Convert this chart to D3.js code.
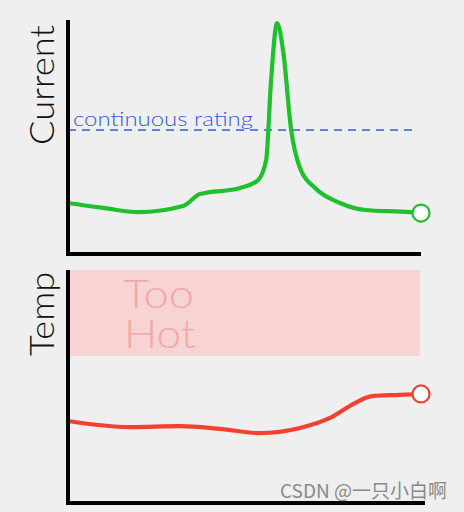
<!DOCTYPE html>
<html><head><meta charset="utf-8">
<script src="https://cdn.jsdelivr.net/npm/d3@7/dist/d3.min.js"></script>
<style>html,body{margin:0;padding:0;background:#efefef;}svg{display:block;}</style>
</head><body>
<script>
// time (0-100) and series values (arbitrary units 0-10)
const currentT = [0, 10, 20, 32.7, 37.5, 48.9, 54, 56.3, 57.7, 59.4, 61.1, 63.4, 65.9, 70.2, 77.3, 84.4, 97.2, 100];
const currentV = [2.18, 1.97, 1.79, 2.05, 2.56, 2.82, 3.16, 4.02, 7.44, 9.87, 8.7, 5.3, 3.68, 2.82, 2.18, 1.88, 1.79, 1.75];
const ratingValue = 5.3;
const tempT = [0, 17.6, 31.8, 43.2, 54.5, 65.9, 74.4, 81.5, 86.4, 94.3, 100];
const tempV = [3.52, 3.26, 3.30, 3.18, 3.0, 3.22, 3.65, 4.29, 4.59, 4.64, 4.68];
const tooHotRange = [6.31, 10];
const labels = {current: "Current", temp: "Temp", rating: "continuous rating", hot: ["Too", "Hot"], mark: "CSDN @一只小白啊"};

const W = 464, H = 512;
const svg = d3.select("body").append("svg").attr("width", W).attr("height", H);
svg.append("rect").attr("width", W).attr("height", H).attr("fill", "#efefef");

const x = d3.scaleLinear().domain([0, 100]).range([68, 420]);
const yC = d3.scaleLinear().domain([0, 10]).range([254, 20]);
const yT = d3.scaleLinear().domain([0, 10]).range([503, 270]);
const font = "Lato, 'Open Sans', sans-serif";

// top panel
svg.append("line").attr("x1", x(0)).attr("x2", x(100) - 5).attr("y1", yC(ratingValue)).attr("y2", yC(ratingValue))
  .attr("stroke", "#3558e6").attr("stroke-width", 1.6).attr("stroke-dasharray", "8,6");
svg.append("text").attr("x", 73).attr("y", yC(ratingValue) - 4).text(labels.rating)
  .attr("font-family", font).attr("font-weight", 300).attr("font-size", 20).attr("fill", "#3558e6")
  .attr("textLength", 180).attr("lengthAdjust", "spacingAndGlyphs");

const lineC = d3.line().x((d, i) => x(currentT[i])).y(d => yC(d)).curve(d3.curveMonotoneX);
svg.append("path").attr("d", lineC(currentV)).attr("fill", "none").attr("stroke", "#1fbf2e").attr("stroke-width", 4.2).attr("stroke-linecap", "round");
svg.append("circle").attr("cx", x(100) + 1).attr("cy", yC(currentV[currentV.length - 1])).attr("r", 8.5)
  .attr("fill", "#fff").attr("stroke", "#1fbf2e").attr("stroke-width", 2.2);

svg.append("path").attr("d", `M${x(0)},${yC(10)}V${yC(0)}H${x(100) + 1}`).attr("fill", "none").attr("stroke", "#000").attr("stroke-width", 4);
svg.append("text").attr("transform", `translate(54,85) rotate(-90)`).attr("text-anchor", "middle")
  .text(labels.current).attr("font-family", font).attr("font-weight", 300).attr("font-size", 34).attr("fill", "#111")
  .attr("textLength", 120).attr("lengthAdjust", "spacingAndGlyphs");

// bottom panel
svg.append("rect").attr("x", x(0)).attr("width", x(100) - x(0)).attr("y", yT(tooHotRange[1])).attr("height", yT(tooHotRange[0]) - yT(tooHotRange[1]))
  .attr("fill", "#f8d3d3");
svg.append("text").attr("x", 123).attr("y", 308).text(labels.hot[0])
  .attr("font-family", font).attr("font-weight", 300).attr("font-size", 40).attr("fill", "#f5a7a1")
  .attr("textLength", 71).attr("lengthAdjust", "spacingAndGlyphs");
svg.append("text").attr("x", 124).attr("y", 348).text(labels.hot[1])
  .attr("font-family", font).attr("font-weight", 300).attr("font-size", 40).attr("fill", "#f5a7a1")
  .attr("textLength", 72).attr("lengthAdjust", "spacingAndGlyphs");

const lineT = d3.line().x((d, i) => x(tempT[i])).y(d => yT(d)).curve(d3.curveMonotoneX);
svg.append("path").attr("d", lineT(tempV)).attr("fill", "none").attr("stroke", "#f4412f").attr("stroke-width", 4.2).attr("stroke-linecap", "round");
svg.append("circle").attr("cx", x(100) + 1).attr("cy", yT(tempV[tempV.length - 1])).attr("r", 8.5)
  .attr("fill", "#fff").attr("stroke", "#f4412f").attr("stroke-width", 2.2);

svg.append("path").attr("d", `M${x(0)},${yT(10)}V${yT(0)}H${x(100) + 5}`).attr("fill", "none").attr("stroke", "#000").attr("stroke-width", 4);
svg.append("text").attr("transform", `translate(54,314) rotate(-90)`).attr("text-anchor", "middle")
  .text(labels.temp).attr("font-family", font).attr("font-weight", 300).attr("font-size", 34).attr("fill", "#111")
  .attr("textLength", 84).attr("lengthAdjust", "spacingAndGlyphs");

svg.append("text").attr("x", 447).attr("y", 498).attr("text-anchor", "end").text(labels.mark)
  .attr("font-family", "'Noto Sans CJK SC', sans-serif").attr("font-size", 19).attr("fill", "#8a8a8a");
</script>
</body></html>
